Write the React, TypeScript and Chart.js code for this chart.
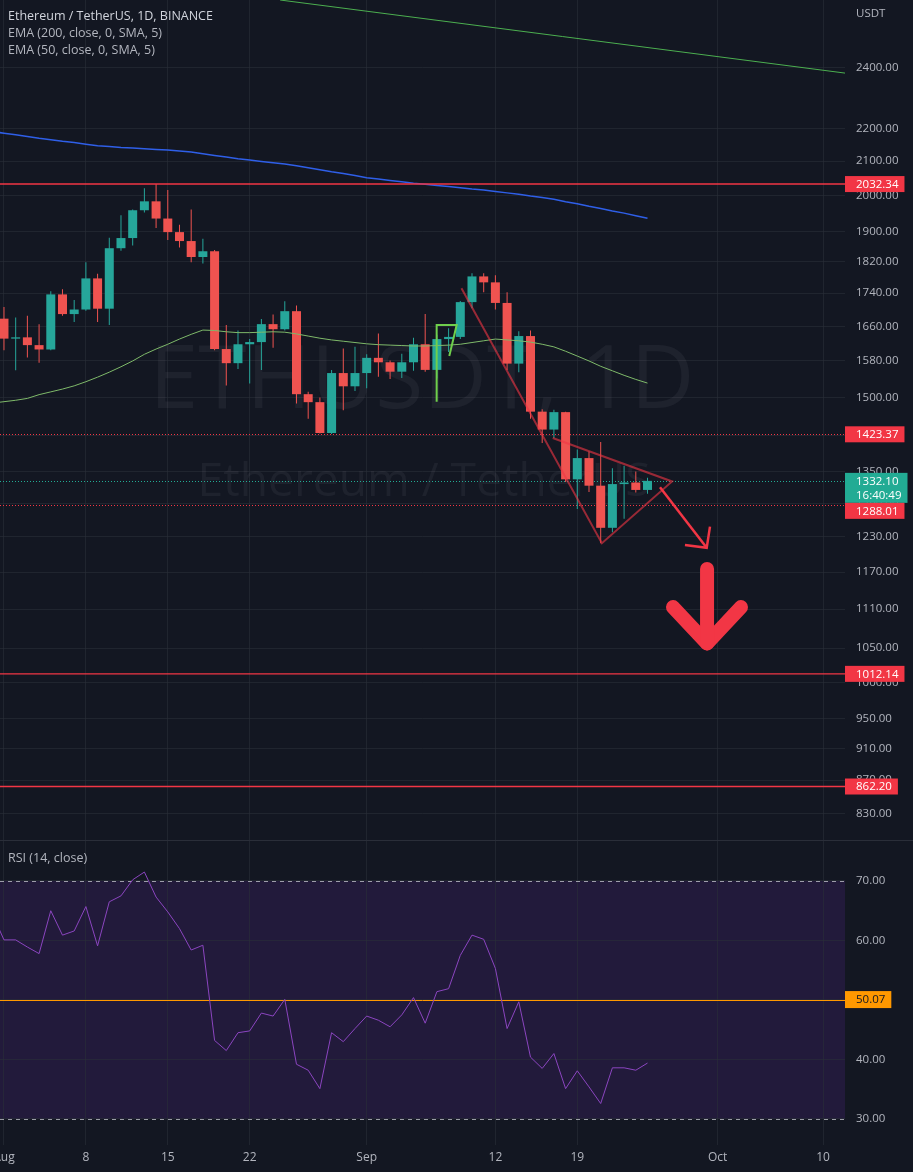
import React, { useEffect, useRef } from 'react';
import { Chart, registerables } from 'chart.js';

Chart.register(...registerables);

// ------------------------------------------------------------------ data
const dates = [
  '2022-07-31',
  '2022-08-01', '2022-08-02', '2022-08-03', '2022-08-04', '2022-08-05', '2022-08-06', '2022-08-07', '2022-08-08', '2022-08-09', '2022-08-10',
  '2022-08-11', '2022-08-12', '2022-08-13', '2022-08-14', '2022-08-15', '2022-08-16', '2022-08-17', '2022-08-18', '2022-08-19', '2022-08-20',
  '2022-08-21', '2022-08-22', '2022-08-23', '2022-08-24', '2022-08-25', '2022-08-26', '2022-08-27', '2022-08-28', '2022-08-29', '2022-08-30', '2022-08-31',
  '2022-09-01', '2022-09-02', '2022-09-03', '2022-09-04', '2022-09-05', '2022-09-06', '2022-09-07', '2022-09-08', '2022-09-09', '2022-09-10',
  '2022-09-11', '2022-09-12', '2022-09-13', '2022-09-14', '2022-09-15', '2022-09-16', '2022-09-17', '2022-09-18', '2022-09-19', '2022-09-20',
  '2022-09-21', '2022-09-22', '2022-09-23', '2022-09-24', '2022-09-25',
];

const opens = [1723, 1678, 1631, 1634, 1616, 1606, 1737, 1689, 1700, 1777, 1702, 1855, 1882, 1958, 1983, 1935, 1898, 1874, 1832, 1847, 1607, 1575, 1618, 1623, 1665, 1653, 1696, 1507, 1490, 1426, 1553, 1524, 1553, 1587, 1577, 1556, 1577, 1618, 1560, 1630, 1635, 1718, 1782, 1767, 1716, 1574, 1637, 1470, 1433, 1469, 1335, 1376, 1323, 1246, 1326, 1329, 1315];
const highs = [1760, 1706, 1681, 1685, 1665, 1745, 1750, 1723, 1818, 1789, 1883, 1944, 1960, 2020, 2032.34, 2015, 1918, 1960, 1880, 1850, 1663, 1650, 1630, 1677, 1688, 1720, 1710, 1512, 1500, 1560, 1608, 1612, 1595, 1643, 1581, 1596, 1633, 1689, 1640, 1655, 1721, 1790, 1790, 1785, 1742, 1648, 1650, 1475, 1474, 1470, 1393, 1389, 1408, 1356, 1361, 1350, 1338];
const lows = [1678, 1604, 1559, 1588, 1576, 1604, 1685, 1670, 1697, 1670, 1663, 1848, 1862, 1952, 1909, 1877, 1857, 1818, 1815, 1604, 1526, 1562, 1530, 1560, 1610, 1650, 1487, 1455, 1425, 1424, 1473, 1514, 1520, 1545, 1540, 1542, 1558, 1556, 1541, 1600, 1630, 1703, 1742, 1700, 1560, 1555, 1455, 1406, 1416, 1330, 1280, 1311, 1219, 1238, 1262, 1310, 1308];
const closes = [1678, 1631, 1634, 1616, 1606, 1737, 1689, 1700, 1777, 1702, 1855, 1882, 1958, 1983, 1935, 1898, 1874, 1832, 1847, 1607, 1575, 1618, 1623, 1665, 1653, 1696, 1507, 1490, 1426, 1553, 1524, 1553, 1587, 1577, 1556, 1577, 1618, 1560, 1630, 1635, 1718, 1782, 1767, 1716, 1574, 1637, 1470, 1433, 1469, 1335, 1376, 1323, 1246, 1326, 1329, 1315, 1332.1];

const ema200 = [2190, 2185, 2180, 2175, 2169, 2165, 2160, 2156, 2151, 2146, 2144, 2141, 2139, 2137, 2135, 2133, 2130, 2127, 2122, 2117, 2112, 2107, 2103, 2099, 2095, 2091, 2086, 2080, 2074, 2068, 2063, 2057, 2051, 2047, 2043, 2039, 2035, 2032, 2028, 2025, 2022, 2018, 2015, 2011, 2007, 2003, 1998, 1994, 1989, 1982, 1976, 1969, 1963, 1956, 1950, 1943, 1936];
const ema50 = [1488, 1491, 1494, 1498, 1506, 1512, 1518, 1525, 1534, 1544, 1555, 1567, 1580, 1595, 1607, 1618, 1630, 1641, 1651, 1650, 1647, 1645, 1645, 1646, 1647, 1646, 1642, 1637, 1632, 1628, 1625, 1622, 1619, 1617, 1616, 1615, 1614, 1614, 1615, 1616, 1618, 1622, 1626, 1630, 1628, 1626, 1623, 1618, 1612, 1602, 1591, 1580, 1568, 1558, 1548, 1539, 1531];
const rsi14 = [64.5, 60.1, 60.1, 58.9, 57.8, 65.0, 60.9, 61.6, 65.7, 59.1, 66.5, 67.5, 70.2, 71.5, 67.3, 64.8, 62.0, 58.4, 59.2, 43.2, 41.5, 44.5, 44.8, 47.8, 47.3, 50.1, 39.2, 38.2, 35.1, 44.5, 43.0, 45.2, 47.3, 46.6, 45.5, 47.5, 50.4, 46.1, 51.4, 51.9, 57.5, 60.9, 60.2, 55.3, 45.2, 49.7, 40.4, 38.5, 41.0, 35.1, 38.1, 35.4, 32.6, 38.6, 38.6, 38.2, 39.4];

const priceTicks = [2400, 2200, 2100, 2000, 1900, 1820, 1740, 1660, 1580, 1500, 1420, 1350, 1290, 1230, 1170, 1110, 1050, 1000, 950, 910, 870, 830];
const rsiTicks = [30, 40, 50, 60, 70];
const timeTickDates = ['2022-08-01', '2022-08-08', '2022-08-15', '2022-08-22', '2022-09-01', '2022-09-12', '2022-09-19', '2022-10-01', '2022-10-10'];
const timeTickLabels = ['Aug', '8', '15', '22', 'Sep', '12', '19', 'Oct', '10'];

const solidLevels = [2032.34, 1012.14, 862.2];
const dottedLevels = [1423.37, 1288.01];
const countdown = '16:40:49';
const rsiUpper = 70;
const rsiLower = 30;
const rsiMarker = 50.07;

// drawings: day offsets from the first date, prices
const trendDays = [24.6, 72.9];
const trendPrices = [2641, 2380];
const flagDays = [37.98, 37.98, 39.69, 39.06];
const flagPrices = [1491, 1663, 1663, 1591];
const triangleDays = [40.1, 52.1, 58.1, 47.9];
const trianglePrices = [1752, 1219, 1331, 1416];
const arrowDays = [57.07, 61.06];
const arrowPrices = [1320, 1211];
const arrowHeadDays = [61.34, 61.06, 59.2];
const arrowHeadPrices = [1248, 1211, 1216];
const bigShaftDays = [61.09, 61.09];
const bigShaftPrices = [1175, 1057];
const bigHeadDays = [58.18, 61.09, 63.99];
const bigHeadPrices = [1113, 1057, 1113];

const headerTitle = 'Ethereum / TetherUS, 1D, BINANCE';
const headerLines = ['EMA (200, close, 0, SMA, 5)', 'EMA (50, close, 0, SMA, 5)'];
const rsiTitle = 'RSI (14, close)';
const currency = 'USDT';
const watermark1 = 'ETHUSDT, 1D';
const watermark2 = 'Ethereum / TetherUS';

// ------------------------------------------------------------------ view
const X_MIN = 0.66;
const X_MAX = 72.88;
const PRICE_MIN = 799;
const PRICE_MAX = 2641;
const RSI_MIN = 25.63;
const RSI_MAX = 76.72;
const AXIS_W = 68;

const BG = '#131722';
const GRID = 'rgba(42,46,57,0.6)';
const AXIS_TEXT = '#b2b5be';
const UP = '#26a69a';
const DOWN = '#ef5350';
const RED = '#f23645';
const TEAL = '#22ab94';
const FONT = '"Open Sans", "DejaVu Sans", sans-serif';
const AXIS_FONT_SIZE = 11.5;

function dayOffset(s: string) {
  return (Date.parse(s + 'T00:00:00Z') - Date.parse(dates[0] + 'T00:00:00Z')) / 86400000;
}

function fitFont(ctx: CanvasRenderingContext2D, text: string, width: number) {
  ctx.font = `100px ${FONT}`;
  const w = ctx.measureText(text).width;
  ctx.font = `${(100 * width) / w}px ${FONT}`;
}

function hLine(ctx: CanvasRenderingContext2D, a: any, y: number, color: string, dash: number[], lw = 1) {
  ctx.save();
  ctx.strokeStyle = color;
  ctx.lineWidth = lw;
  ctx.setLineDash(dash);
  ctx.beginPath();
  const yy = lw === 1 ? Math.round(y) + 0.5 : y;
  ctx.moveTo(a.left, yy);
  ctx.lineTo(a.right, yy);
  ctx.stroke();
  ctx.restore();
}

const pricePlugin = {
  id: 'priceOverlay',
  beforeDatasetsDraw(chart: any) {
    const { ctx, chartArea: a, scales } = chart;
    const y = scales.y;
    ctx.save();
    ctx.beginPath();
    ctx.rect(a.left, a.top, a.right - a.left, a.bottom - a.top);
    ctx.clip();
    ctx.fillStyle = 'rgba(178,181,190,0.075)';
    ctx.textAlign = 'center';
    ctx.textBaseline = 'alphabetic';
    fitFont(ctx, watermark1, 545);
    ctx.fillText(watermark1, 422, 408);
    fitFont(ctx, watermark2, 453);
    ctx.fillText(watermark2, 424, 496);
    ctx.restore();

    dottedLevels.forEach((v) => hLine(ctx, a, y.getPixelForValue(v), RED, [1, 2]));
    hLine(ctx, a, y.getPixelForValue(closes[closes.length - 1]), TEAL, [1, 2]);
  },
  afterDatasetsDraw(chart: any) {
    const { ctx, chartArea: a, scales } = chart;
    const y = scales.y;
    solidLevels.forEach((v) => hLine(ctx, a, y.getPixelForValue(v), RED, [], 1.4));
  },
  afterDraw(chart: any) {
    const { ctx, chartArea: a, scales } = chart;
    const y = scales.y;
    ctx.save();
    ctx.textAlign = 'left';
    ctx.textBaseline = 'middle';
    ctx.font = `12.5px ${FONT}`;
    ctx.fillStyle = '#d1d4dc';
    ctx.fillText(headerTitle, 8, 16);
    ctx.fillStyle = AXIS_TEXT;
    ctx.fillText(headerLines[0], 8, 33);
    ctx.fillText(headerLines[1], 8, 50);
    ctx.font = `${AXIS_FONT_SIZE}px ${FONT}`;
    ctx.fillText(currency, a.right + 11, 14);

    const last = closes[closes.length - 1];
    const boxes = [
      ...solidLevels.map((v) => ({ v, color: RED, lines: [v.toFixed(2)] })),
      ...dottedLevels.map((v) => ({ v, color: RED, lines: [v.toFixed(2)] })),
      { v: last, color: TEAL, lines: [last.toFixed(2), countdown] },
    ]
      .map((b) => ({ ...b, py: y.getPixelForValue(b.v) }))
      .sort((p, q) => p.py - q.py);
    let prevBottom = -1e9;
    ctx.font = `${AXIS_FONT_SIZE}px ${FONT}`;
    for (const b of boxes) {
      const h = b.lines.length === 1 ? 16 : 30;
      let top = b.py - 8;
      if (top < prevBottom) top = prevBottom;
      const tw = Math.max(...b.lines.map((t) => ctx.measureText(t).width));
      ctx.fillStyle = b.color;
      ctx.fillRect(a.right, top, 11 + tw + 6, h);
      ctx.fillStyle = '#ffffff';
      b.lines.forEach((t, i) => ctx.fillText(t, a.right + 11, top + 8.5 + i * 14));
      prevBottom = top + h;
    }
    ctx.restore();
  },
};

const rsiPlugin = {
  id: 'rsiOverlay',
  beforeDraw(chart: any) {
    const { ctx, chartArea: a, scales } = chart;
    const y = scales.y;
    const t = y.getPixelForValue(rsiUpper);
    const b = y.getPixelForValue(rsiLower);
    ctx.save();
    ctx.fillStyle = '#221a3b';
    ctx.fillRect(a.left, t, a.right - a.left, b - t);
    ctx.restore();
  },
  beforeDatasetsDraw(chart: any) {
    const { ctx, chartArea: a, scales } = chart;
    const y = scales.y;
    hLine(ctx, a, y.getPixelForValue(rsiUpper), 'rgba(200,202,210,0.75)', [4, 4]);
    hLine(ctx, a, y.getPixelForValue(rsiLower), 'rgba(200,202,210,0.75)', [4, 4]);
    hLine(ctx, a, y.getPixelForValue(rsiMarker), '#ff9800', []);
  },
  afterDraw(chart: any) {
    const { ctx, chartArea: a, scales } = chart;
    const y = scales.y;
    ctx.save();
    ctx.textAlign = 'left';
    ctx.textBaseline = 'middle';
    ctx.font = `12.5px ${FONT}`;
    ctx.fillStyle = AXIS_TEXT;
    ctx.fillText(rsiTitle, 8, 17);
    ctx.font = `${AXIS_FONT_SIZE}px ${FONT}`;
    const txt = rsiMarker.toFixed(2);
    const py = y.getPixelForValue(rsiMarker);
    const tw = ctx.measureText(txt).width;
    ctx.fillStyle = '#ff9800';
    ctx.fillRect(a.right, py - 8.5, 11 + tw + 6, 17);
    ctx.fillStyle = '#131722';
    ctx.fillText(txt, a.right + 11, py + 0.5);
    ctx.restore();
  },
};

export default function App() {
  const priceRef = useRef<HTMLCanvasElement>(null);
  const rsiRef = useRef<HTMLCanvasElement>(null);

  useEffect(() => {
    const xs = dates.map(dayOffset);
    const tickXs = timeTickDates.map(dayOffset);
    const colors = opens.map((o, i) => (closes[i] >= o ? UP : DOWN));
    const pts = (days: number[], vals: number[]) => days.map((d, i) => ({ x: d, y: vals[i] }));

    const xScale = (showLabels: boolean) => ({
      type: 'linear' as const,
      min: X_MIN,
      max: X_MAX,
      offset: false,
      afterBuildTicks: (s: any) => {
        s.ticks = tickXs.map((v) => ({ value: v }));
      },
      afterFit: (s: any) => {
        s.height = showLabels ? 27 : 0;
        s.paddingLeft = 0;
        s.paddingRight = 0;
      },
      grid: { color: GRID, drawTicks: false, offset: false },
      border: { display: false },
      ticks: {
        display: showLabels,
        color: AXIS_TEXT,
        font: { family: FONT, size: 12 },
        padding: 5,
        autoSkip: false,
        maxRotation: 0,
        callback: (_v: any, i: number) => timeTickLabels[i],
      },
    });

    const yAfterFit = (s: any) => {
      s.width = AXIS_W;
      s.paddingTop = 0;
      s.paddingBottom = 0;
    };

    const line = (data: any[], color: string, width: number, order: number, extra: any = {}) => ({
      type: 'line' as const,
      data,
      borderColor: color,
      borderWidth: width,
      pointRadius: 0,
      tension: 0,
      order,
      ...extra,
    });

    const price = new Chart(priceRef.current as HTMLCanvasElement, {
      type: 'bar',
      data: {
        datasets: [
          line(pts(trendDays, trendPrices), '#4caf50', 1, 12) as any,
          {
            type: 'bar',
            data: xs.map((x, i) => ({ x, y: [lows[i], highs[i]] })),
            backgroundColor: colors,
            barThickness: 1,
            grouped: false,
            inflateAmount: 0,
            borderWidth: 0,
            order: 11,
          },
          {
            type: 'bar',
            data: xs.map((x, i) => ({ x, y: [opens[i], closes[i]] })),
            backgroundColor: colors,
            barThickness: 9,
            minBarLength: 1,
            grouped: false,
            inflateAmount: 0,
            borderWidth: 0,
            order: 10,
          },
          line(pts(xs, ema200), '#2f5fe8', 1.5, 9),
          line(pts(xs, ema50), '#7fba6a', 1, 8),
          line(pts(flagDays, flagPrices), '#6fcf4c', 2, 7),
          line(pts(triangleDays, trianglePrices), 'rgba(242,54,69,0.6)', 2, 6),
          line(pts(arrowDays, arrowPrices), RED, 2.5, 5),
          line(pts(arrowHeadDays, arrowHeadPrices), RED, 2.5, 5, { borderJoinStyle: 'miter' }),
          line(pts(bigShaftDays, bigShaftPrices), RED, 14, 4, { borderCapStyle: 'round' }),
          line(pts(bigHeadDays, bigHeadPrices), RED, 14, 4, { borderCapStyle: 'round', borderJoinStyle: 'round' }),
        ] as any,
      },
      options: {
        animation: false,
        responsive: false,
        events: [],
        layout: { padding: 0, autoPadding: false } as any,
        plugins: { legend: { display: false }, tooltip: { enabled: false } },
        scales: {
          x: xScale(false) as any,
          y: {
            type: 'logarithmic',
            position: 'right',
            min: PRICE_MIN,
            max: PRICE_MAX,
            bounds: 'data',
            afterBuildTicks: (s: any) => {
              s.ticks = priceTicks.map((v) => ({ value: v }));
            },
            afterFit: yAfterFit,
            grid: { color: GRID, drawTicks: false },
            border: { display: false },
            ticks: {
              color: AXIS_TEXT,
              font: { family: FONT, size: AXIS_FONT_SIZE },
              padding: 11,
              autoSkip: false,
              callback: (v: any) => Number(v).toFixed(2),
            },
          } as any,
        },
      },
      plugins: [pricePlugin],
    });

    const rsi = new Chart(rsiRef.current as HTMLCanvasElement, {
      type: 'line',
      data: {
        datasets: [line(pts(xs, rsi14), '#8b45c0', 1, 1) as any],
      },
      options: {
        animation: false,
        responsive: false,
        events: [],
        layout: { padding: 0, autoPadding: false } as any,
        plugins: { legend: { display: false }, tooltip: { enabled: false } },
        scales: {
          x: xScale(true) as any,
          y: {
            type: 'linear',
            position: 'right',
            min: RSI_MIN,
            max: RSI_MAX,
            bounds: 'data',
            afterBuildTicks: (s: any) => {
              s.ticks = rsiTicks.map((v) => ({ value: v }));
            },
            afterFit: yAfterFit,
            grid: { color: GRID, drawTicks: false },
            border: { display: false },
            ticks: {
              color: AXIS_TEXT,
              font: { family: FONT, size: AXIS_FONT_SIZE },
              padding: 11,
              autoSkip: false,
              callback: (v: any) => Number(v).toFixed(2),
            },
          } as any,
        },
      },
      plugins: [rsiPlugin],
    });

    return () => {
      price.destroy();
      rsi.destroy();
    };
  }, []);

  return (
    <div style={{ position: 'absolute', left: 0, top: 0, width: 913, height: 1172, background: BG, overflow: 'hidden' }}>
      <canvas ref={priceRef} width={913} height={840} style={{ position: 'absolute', left: 0, top: 0 }} />
      <div style={{ position: 'absolute', left: 0, top: 840, width: 913, height: 1, background: '#2a2e39' }} />
      <canvas ref={rsiRef} width={913} height={331} style={{ position: 'absolute', left: 0, top: 841 }} />
    </div>
  );
}
